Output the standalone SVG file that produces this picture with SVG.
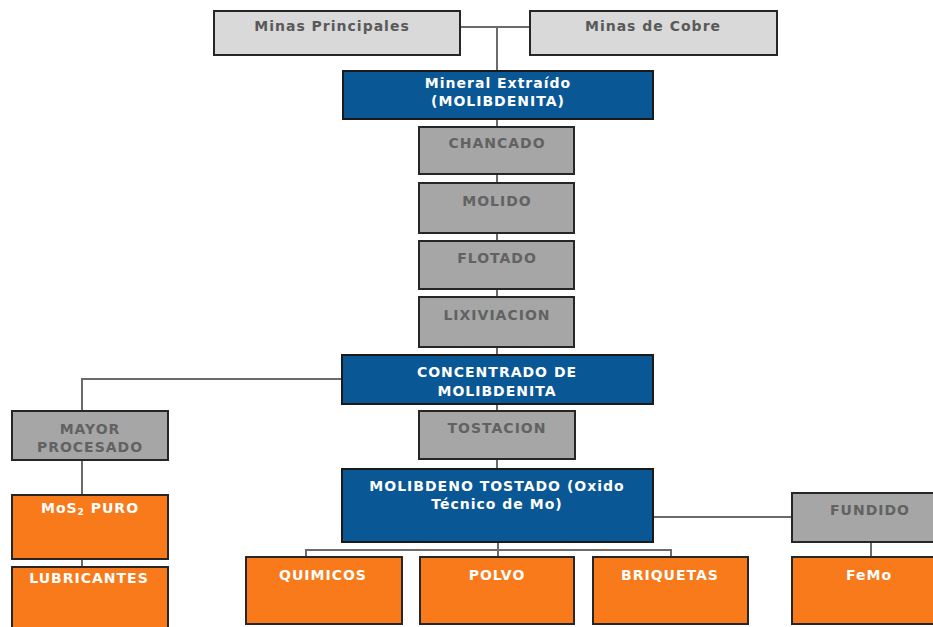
<svg xmlns="http://www.w3.org/2000/svg" width="933" height="627" viewBox="0 0 933 627">
<style>
text{font-family:"DejaVu Sans","Verdana",sans-serif;font-weight:bold;font-size:14px;letter-spacing:1px;text-anchor:middle}
.lg{fill:#d9d9d9;stroke:#262626;stroke-width:2}
.gr{fill:#a6a6a6;stroke:#262626;stroke-width:2}
.bl{fill:#0a5796;stroke:#1a1a1a;stroke-width:2}
.or{fill:#f97a1a;stroke:#262626;stroke-width:2}
.tlg{fill:#595959}
.tgr{fill:#626262}
.tw{fill:#ffffff}
.c{fill:none;stroke:#6b6b6b;stroke-width:2}
</style>
<rect width="933" height="627" fill="#ffffff"/>
<g id="connectors">
<path class="c" d="M460 27H530M497 27V71"/>
<path class="c" d="M497 119V127M497 174V183M497 233V241M497 289V297M497 347V355"/>
<path class="c" d="M342 379H82V411M82 460V495M82 559V567"/>
<path class="c" d="M497 404V411M497 459V469"/>
<path class="c" d="M498 542V557M306 557V550H671V557"/>
<path class="c" d="M653 517H792M871 542V557"/>
</g>
<g id="minas-principales"><rect class="lg" x="214" y="11" width="246" height="44"/><text class="tlg" x="332" y="31">Minas Principales</text></g>
<g id="minas-cobre"><rect class="lg" x="530" y="11" width="247" height="44"/><text class="tlg" x="653" y="31">Minas de Cobre</text></g>
<g id="mineral"><rect class="bl" x="343" y="71" width="310" height="48"/><text class="tw" x="498" y="88">Mineral Extraído</text><text class="tw" x="498" y="106">(MOLIBDENITA)</text></g>
<g id="chancado"><rect class="gr" x="419" y="127" width="155" height="47"/><text class="tgr" x="497" y="148">CHANCADO</text></g>
<g id="molido"><rect class="gr" x="419" y="183" width="155" height="50"/><text class="tgr" x="497" y="206">MOLIDO</text></g>
<g id="flotado"><rect class="gr" x="419" y="241" width="155" height="48"/><text class="tgr" x="497" y="263">FLOTADO</text></g>
<g id="lixiviacion"><rect class="gr" x="419" y="297" width="155" height="50"/><text class="tgr" x="497" y="320">LIXIVIACION</text></g>
<g id="concentrado"><rect class="bl" x="342" y="355" width="311" height="49"/><text class="tw" x="497" y="377">CONCENTRADO DE</text><text class="tw" x="497" y="396">MOLIBDENITA</text></g>
<g id="tostacion"><rect class="gr" x="419" y="411" width="156" height="48"/><text class="tgr" x="497" y="433">TOSTACION</text></g>
<g id="molibdeno-tostado"><rect class="bl" x="342" y="469" width="311" height="73"/><text class="tw" x="497" y="491">MOLIBDENO TOSTADO (Oxido</text><text class="tw" x="497" y="509">Técnico de Mo)</text></g>
<g id="mayor-procesado"><rect class="gr" x="12" y="411" width="156" height="49"/><text class="tgr" x="90" y="434">MAYOR</text><text class="tgr" x="90" y="452">PROCESADO</text></g>
<g id="mos2"><rect class="or" x="12" y="495" width="156" height="64"/><text class="tw" x="90" y="513">MoS<tspan font-size="9" dy="2">2</tspan><tspan dy="-2"> PURO</tspan></text></g>
<g id="lubricantes"><rect class="or" x="12" y="567" width="156" height="66"/><text class="tw" x="89" y="583">LUBRICANTES</text></g>
<g id="quimicos"><rect class="or" x="246" y="557" width="156" height="67"/><text class="tw" x="323" y="580">QUIMICOS</text></g>
<g id="polvo"><rect class="or" x="420" y="557" width="154" height="67"/><text class="tw" x="497" y="580">POLVO</text></g>
<g id="briquetas"><rect class="or" x="593" y="557" width="155" height="67"/><text class="tw" x="670" y="580">BRIQUETAS</text></g>
<g id="fundido"><rect class="gr" x="792" y="493" width="158" height="49"/><text class="tgr" x="870" y="515">FUNDIDO</text></g>
<g id="femo"><rect class="or" x="792" y="557" width="158" height="67"/><text class="tw" x="869" y="580">FeMo</text></g>
</svg>
